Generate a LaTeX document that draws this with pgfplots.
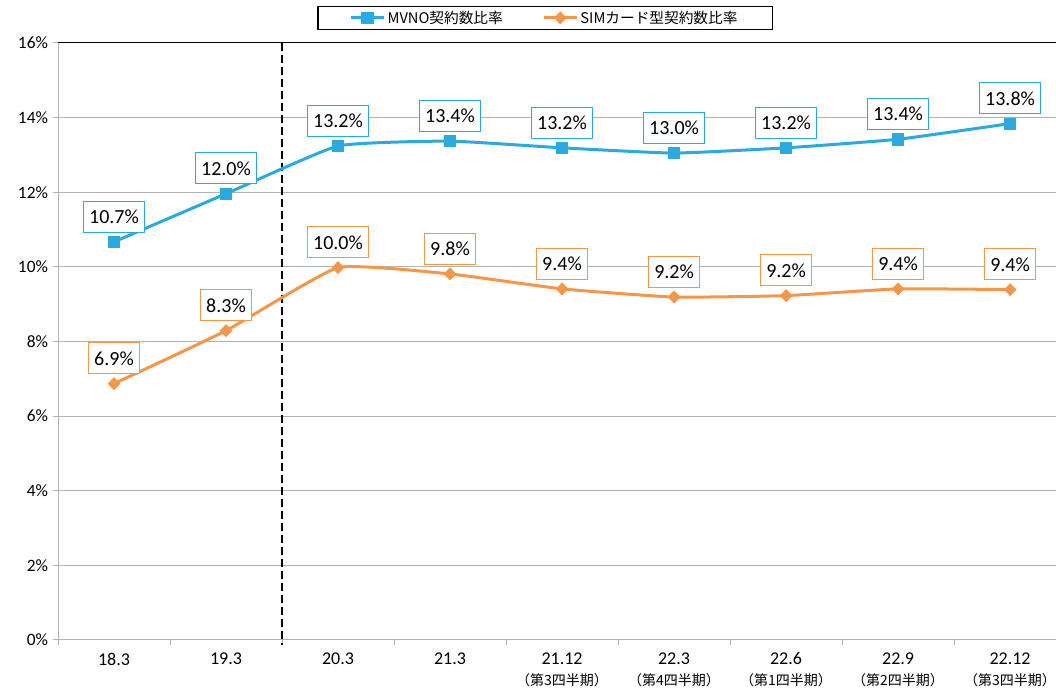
\documentclass[border=0pt]{standalone}
\usepackage{fontspec}
\setmainfont{Carlito}
\newfontfamily\jp{Noto Sans CJK JP}
\usepackage{pgfplots}
\usepackage{pgfplotstable}
\pgfplotsset{compat=1.18}
\definecolor{mblue}{RGB}{41,171,226}
\definecolor{morange}{RGB}{247,150,70}
\definecolor{gridgray}{RGB}{178,178,178}
\newcommand\sub[1]{{\jp\fontsize{10.5}{12}\selectfont #1}}

\pgfplotstableread{
x y l
0 10.67 10.7
1 11.96 12.0
2 13.24 13.2
3 13.37 13.4
4 13.19 13.2
5 13.05 13.0
6 13.19 13.2
7 13.42 13.4
8 13.84 13.8
}\mvnotab
\pgfplotstableread{
x y l
0 6.87 6.9
1 8.29 8.3
2 9.98 10.0
3 9.81 9.8
4 9.41 9.4
5 9.19 9.2
6 9.23 9.2
7 9.41 9.4
8 9.39 9.4
}\simtab

\begin{document}
\begin{tikzpicture}
\useasboundingbox (0,0) rectangle (792pt,519pt);
\begin{axis}[
  at={(43.5pt,39pt)}, anchor=south west,
  scale only axis, width=748.5pt, height=447.75pt,
  xmin=-0.5, xmax=8.41, ymin=0, ymax=16,
  clip=false,
  axis x line*=bottom, axis y line*=left,
  axis line style={gridgray, line width=0.75pt, -},
  /pgf/number format/assume math mode=true,
  ytick={0,2,...,16},
  yticklabel={\pgfmathprintnumber{\tick}\%},
  yticklabel style={font=\fontsize{13}{15}\selectfont, text=black},
  ymajorgrids, grid style={gridgray, line width=0.75pt},
  tick align=outside, major tick length=4pt,
  every tick/.style={gridgray, line width=0.75pt},
  xtick={-0.5,0.5,...,7.5},
  xticklabels={},
  extra x ticks={0,1,2,3,4,5,6,7,8},
  extra x tick labels={{18.3},{19.3},{20.3},{21.3},{21.12\\\sub{（第3四半期）}},{22.3\\\sub{（第4四半期）}},{22.6\\\sub{（第1四半期）}},{22.9\\\sub{（第2四半期）}},{22.12\\\sub{（第3四半期）}}},
  extra x tick style={major tick length=0pt},
  xticklabel style={align=center, anchor=north, font=\fontsize{13.5}{15.75}\selectfont, text=black, yshift=-6pt},
  legend style={at={(0.488,1.042)}, anchor=center, legend columns=2, draw=black, line width=0.8pt,
    font=\jp\fontsize{11}{13}\selectfont, inner xsep=24pt, inner ysep=1pt,
    /tikz/every even column/.append style={column sep=28pt}},
  legend image code/.code={\draw[mark repeat=2,mark phase=2,#1] plot coordinates {(0pt,0pt)(12pt,0pt)(24pt,0pt)};},
]
\draw[black, line width=0.75pt] (axis cs:-0.5,16) -- (axis cs:8.41,16);
\draw[black, line width=1.5pt, dash pattern=on 6pt off 3pt] (axis cs:1.5,16) -- ([yshift=-4pt]axis cs:1.5,0);

\addplot[mblue, line width=2.25pt, smooth, tension=0.25, mark=square*, mark size=4.25pt,
  mark options={solid, line width=0.5pt},
  point meta=explicit,
  nodes near coords={\pgfmathprintnumber[fixed,fixed zerofill,precision=1]{\pgfplotspointmeta}\%},
  every node near coord/.append style={anchor=south, yshift=7pt, draw=mblue, line width=0.75pt, fill=white, text=black,
    font=\fontsize{15}{18}\selectfont, inner xsep=4.5pt, inner ysep=0pt, minimum height=23.25pt}]
  table[x=x, y=y, meta=l]{\mvnotab};
\addlegendentry{MVNO契約数比率}
\addplot[morange, line width=2.25pt, smooth, tension=0.25, mark=diamond*, mark size=4.5pt,
  mark options={solid, line width=0.5pt, xscale=1.3},
  point meta=explicit,
  nodes near coords={\pgfmathprintnumber[fixed,fixed zerofill,precision=1]{\pgfplotspointmeta}\%},
  every node near coord/.append style={anchor=south, yshift=7pt, draw=morange, line width=0.75pt, fill=white, text=black,
    font=\fontsize{15}{18}\selectfont, inner xsep=4.5pt, inner ysep=0pt, minimum height=23.25pt}]
  table[x=x, y=y, meta=l]{\simtab};
\addlegendentry{SIMカード型契約数比率}
\end{axis}
\end{tikzpicture}
\end{document}
